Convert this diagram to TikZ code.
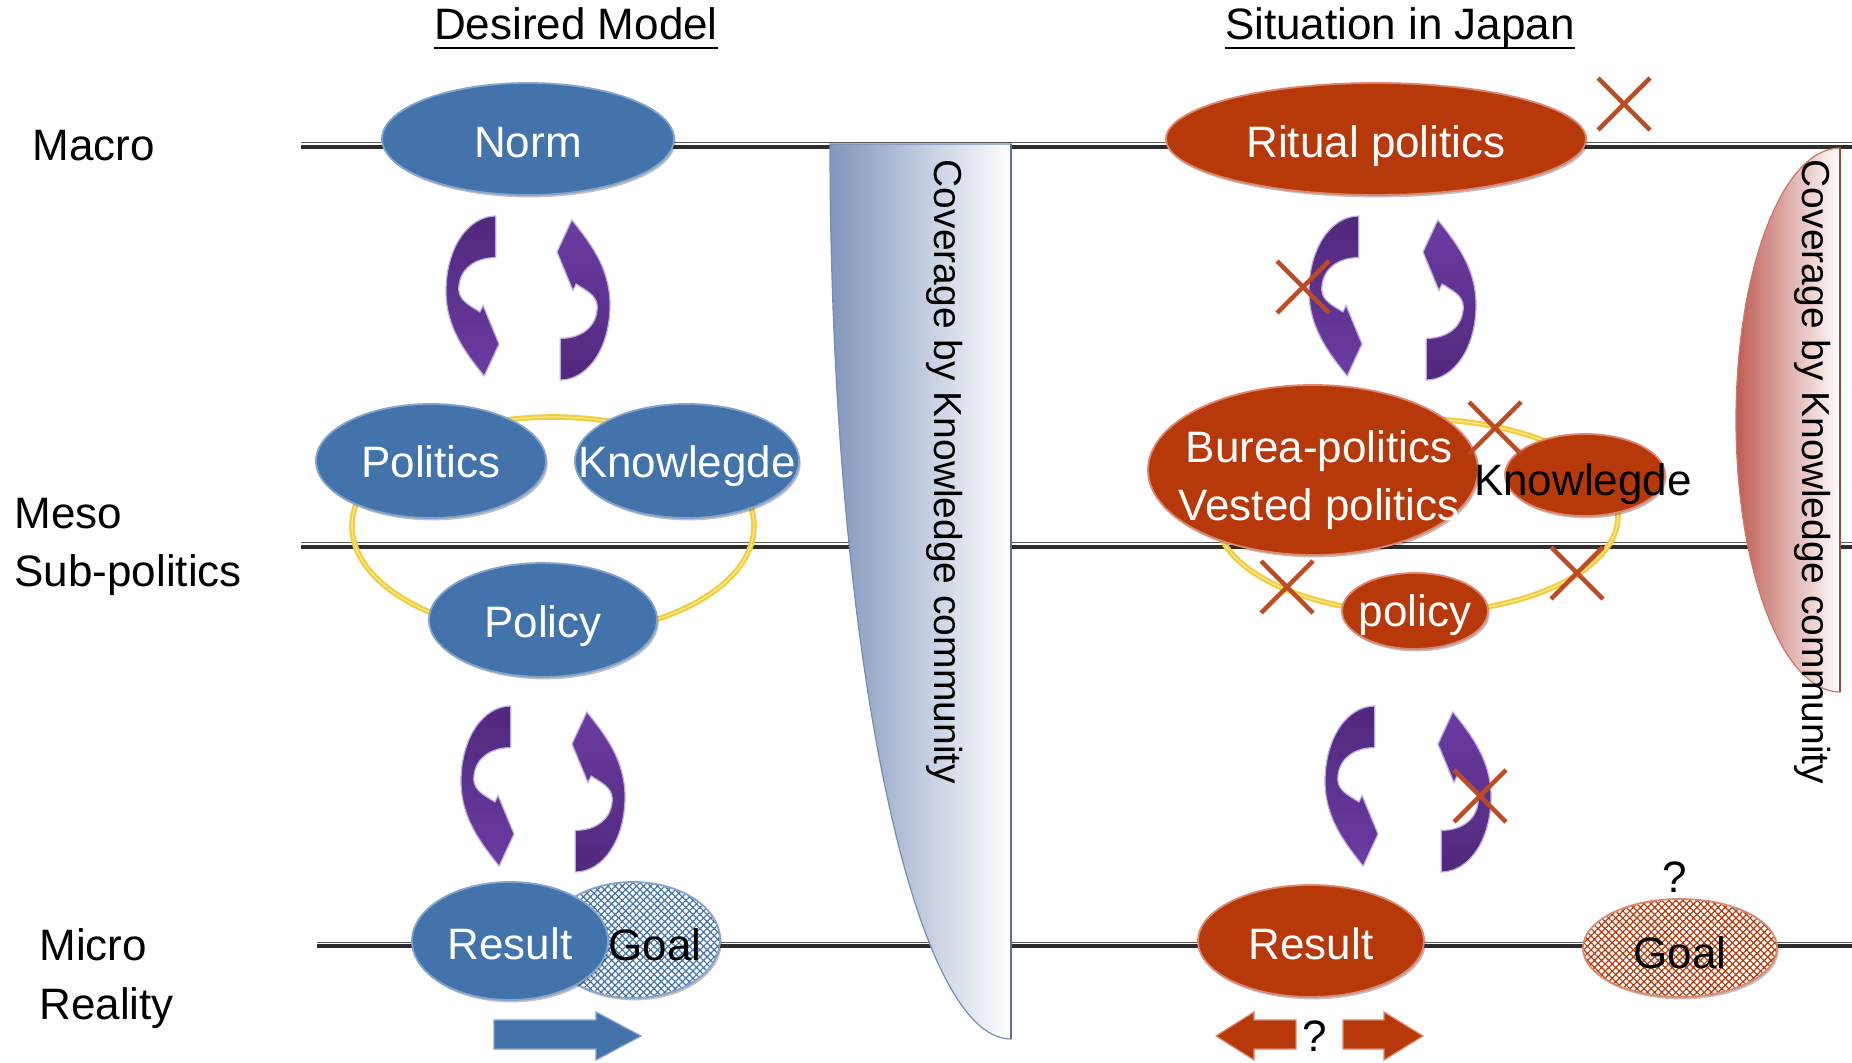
\documentclass[tikz,border=0pt]{standalone}
\usepackage{fontspec}
\setmainfont{Liberation Sans}
\usetikzlibrary{shapes.geometric,patterns.meta,shadows}

\definecolor{nblue}{RGB}{66,115,170}
\definecolor{nblueedge}{RGB}{130,163,206}
\definecolor{nred}{RGB}{183,57,10}
\definecolor{nrededge}{RGB}{220,135,110}
\definecolor{pdark}{RGB}{80,40,124}
\definecolor{pmid}{RGB}{94,50,144}
\definecolor{plight}{RGB}{108,60,162}
\definecolor{pedge}{RGB}{190,172,220}
\definecolor{ringyel}{RGB}{242,206,62}
\definecolor{ringlight}{RGB}{250,234,150}
\definecolor{xred}{RGB}{190,74,34}
\definecolor{covblue}{RGB}{128,150,188}
\definecolor{covblueedge}{RGB}{120,140,175}
\definecolor{covred}{RGB}{190,92,84}
\definecolor{covrededge}{RGB}{200,120,105}

\newcommand{\carrowL}[2]{%
 \begin{scope}[shift={(#1,#2)},xscale=53,yscale=160]
 \path[arrowshape,top color=pdark,bottom color=plight,middle color=pmid] (0.94,0) .. controls (0.42,0) and (0,0.2) .. (0,0.47) .. controls (0,0.7) and (0.38,0.86) .. (0.72,1) -- (1,0.8) -- (0.7,0.56) -- (0.64,0.6) .. controls (0.45,0.56) and (0.25,0.53) .. (0.24,0.46) .. controls (0.24,0.33) and (0.55,0.26) .. (0.94,0.26) -- cycle;
 \end{scope}}
\newcommand{\carrowR}[2]{%
 \begin{scope}[shift={(#1+53,#2+160)},xscale=-53,yscale=-160]
 \path[arrowshape,top color=plight,bottom color=pdark,middle color=pmid] (0.94,0) .. controls (0.42,0) and (0,0.2) .. (0,0.47) .. controls (0,0.7) and (0.38,0.86) .. (0.72,1) -- (1,0.8) -- (0.7,0.56) -- (0.64,0.6) .. controls (0.45,0.56) and (0.25,0.53) .. (0.24,0.46) .. controls (0.24,0.33) and (0.55,0.26) .. (0.94,0.26) -- cycle;
 \end{scope}}
\newcommand{\xcross}[2]{%
 \draw[xstroke] (#1-26,#2-26) -- (#1+26,#2+26) (#1+26,#2-26) -- (#1-26,#2+26);}

\tikzset{
 ebase/.style={ellipse, inner sep=0pt, line width=0.9pt,
   drop shadow={shadow xshift=0.8pt, shadow yshift=-1.2pt, opacity=0.25, fill=black}},
 eblue/.style={ebase, fill=nblue, draw=nblueedge},
 ered/.style={ebase, fill=nred, draw=nrededge},
 wtext/.style={text=white, font=\fontsize{22}{26}\selectfont, inner sep=0pt, anchor=base},
 btext/.style={text=black, font=\fontsize{22}{26}\selectfont, inner sep=0pt, anchor=base},
 lbl/.style={font=\fontsize{22}{26}\selectfont, inner sep=0pt, anchor=base west},
 ttl/.style={font=\fontsize{22}{26}\selectfont, inner sep=0pt, anchor=base},
 vtext/.style={font=\fontsize{19.5}{22}\selectfont, rotate=-90, inner sep=0pt},
 hlinetop/.style={draw=black!65, line width=0.5pt},
 hlinebot/.style={draw=black!82, line width=1.6pt},
 ring/.style={draw=ringyel, line width=2.8pt},
 ringhi/.style={draw=ringlight, line width=0.6pt},
 xstroke/.style={draw=xred, line width=2.2pt},
 arrowshape/.style={draw=pedge, line width=0.6pt},
 fatblue/.style={fill=nblue, draw=nblueedge, line width=0.6pt},
 fatred/.style={fill=nred, draw=nrededge, line width=0.6pt},
}

\begin{document}
\begin{tikzpicture}[x=0.5pt,y=-0.5pt]
\useasboundingbox (0,0) rectangle (1852,1063);
\fill[white] (0,0) rectangle (1852,1063);

% titles
\node[ttl] (t1) at (576,40) {Desired Model};
\draw[line width=1.1pt] ([yshift=-4pt]t1.base west) -- ([yshift=-4pt]t1.base east);
\node[ttl] (t2) at (1400,40) {Situation in Japan};
\draw[line width=1.1pt] ([yshift=-4pt]t2.base west) -- ([yshift=-4pt]t2.base east);

% level labels
\node[lbl] (lmacro) at (32,161) {Macro};
\node[lbl] (lmeso) at (14,529) {Meso};
\node[lbl] (lsub) at (14,587) {Sub-politics};
\node[lbl] (lmicro) at (39,960) {Micro};
\node[lbl] (lreal) at (39,1019) {Reality};

% horizontal level lines
\coordinate (macroL) at (301,147); \coordinate (macroR) at (1860,147);
\coordinate (mesoL) at (301,547); \coordinate (mesoR) at (1860,547);
\coordinate (microL) at (317,946); \coordinate (microR) at (1860,946);
\foreach \a/\b in {macroL/macroR, mesoL/mesoR, microL/microR}{
  \draw[hlinetop] ([yshift=2pt]\a) -- ([yshift=2pt]\b);
  \draw[hlinebot] (\a) -- (\b);
}

% coverage shapes
\path[left color=covblue, right color=white, draw=covblueedge, line width=0.6pt]
  (1011,1039) -- (1011,144) -- (830,144) arc[start angle=180, end angle=90, x radius=181, y radius=895] -- cycle;
\draw[covblueedge!80!black, line width=0.8pt] (1011,144) -- (1011,1039);
\path[left color=covred, right color=white, draw=covrededge, line width=0.6pt]
  (1840,148) arc[start angle=270, end angle=90, x radius=104, y radius=272] -- cycle;
\draw[covred!80!black, line width=0.8pt] (1840,148) -- (1840,692);

% rings
\draw[ring] (553,526) ellipse [x radius=201, y radius=109];
\draw[ringhi] (553,526) ellipse [x radius=201, y radius=109];
\draw[ring] (1417,516) ellipse [x radius=201, y radius=97];
\draw[ringhi] (1417,516) ellipse [x radius=201, y radius=97];

% ---------- Desired model ----------
\node[eblue, minimum width=146pt, minimum height=56pt] (norm) at (528,139) {};
\node[wtext] (normt) at (528,158) {Norm};
\node[eblue, minimum width=115pt, minimum height=57pt] (polit) at (431,461) {};
\node[wtext] (politt) at (431,478) {Politics};
\node[eblue, minimum width=112pt, minimum height=57pt] (know) at (687,461) {};
\node[wtext] (knowt) at (687,478) {Knowlegde};
\node[eblue, minimum width=114pt, minimum height=57pt] (pol) at (543,620) {};
\node[wtext] (polt) at (543,638) {Policy};
\node[ebase, draw=nblueedge, preaction={fill=white},
      pattern={Hatch[angle=45,distance=2.5pt,line width=0.6pt]}, pattern color=nblue,
      minimum width=87pt, minimum height=58pt] (goalb) at (633,940) {};
\node[eblue, minimum width=98pt, minimum height=59pt] (resb) at (510,941) {};
\node[wtext] (resbt) at (510,959) {Result};
\node[btext] (goalbt) at (655,960) {Goal};
\path[fatblue] (494,1020) -- (596,1020) -- (596,1012) -- (641,1036) -- (596,1060) -- (596,1049) -- (494,1049) -- cycle;

\carrowL{446}{216}
\carrowR{557}{220}
\carrowL{461}{706}
\carrowR{572}{712}

% ---------- Situation in Japan ----------
\node[ered, minimum width=210pt, minimum height=56pt] (rit) at (1376,139) {};
\node[wtext] (ritt) at (1376,158) {Ritual politics};
\node[ered, minimum width=165pt, minimum height=85pt] (bur) at (1313,470) {};
\node[wtext] (burt1) at (1319,463) {Burea-politics};
\node[wtext] (burt2) at (1319,521) {Vested politics};
\node[ered, minimum width=80pt, minimum height=41pt] (knowr) at (1585,475) {};
\node[btext] (knowrt) at (1583,496) {Knowlegde};
\node[ered, minimum width=73pt, minimum height=38pt] (polr) at (1415,611) {};
\node[wtext] (polrt) at (1415,626) {policy};
\node[ered, minimum width=113pt, minimum height=56pt] (resr) at (1311,941) {};
\node[wtext] (resrt) at (1311,959) {Result};
\node[ebase, draw=nrededge, preaction={fill=white},
      pattern={Hatch[angle=45,distance=2.5pt,line width=0.6pt]}, pattern color=nred,
      minimum width=97pt, minimum height=49pt] (goalr) at (1680,948) {};
\node[btext] (goalrt) at (1680,968) {Goal};
\node[btext] (q1) at (1675,892) {?};
\node[btext] (q2) at (1315,1051) {?};
\path[fatred] (1296,1020) -- (1254,1020) -- (1254,1012) -- (1216,1036) -- (1254,1060) -- (1254,1049) -- (1296,1049) -- cycle;
\path[fatred] (1343,1020) -- (1384,1020) -- (1384,1012) -- (1423,1036) -- (1384,1060) -- (1384,1049) -- (1343,1049) -- cycle;

\carrowL{1309}{216}
\carrowR{1423}{220}
\carrowL{1325}{706}
\carrowR{1438}{712}

% crosses
\xcross{1624}{104}
\xcross{1303}{287}
\xcross{1495}{428}
\xcross{1287}{587}
\xcross{1577}{573}
\xcross{1480}{796}

% coverage texts
\node[vtext] (cov1) at (945,472) {Coverage by Knowledge community};
\node[vtext] (cov2) at (1813,472) {Coverage by Knowledge community};
\end{tikzpicture}
\end{document}
